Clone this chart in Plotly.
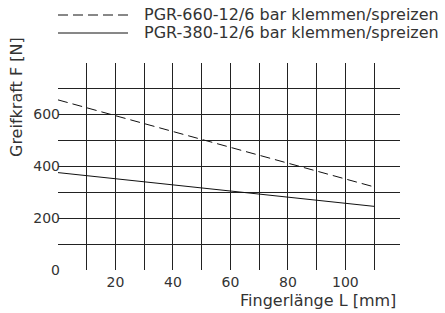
import plotly.graph_objects as go

# Data
x_660 = [0, 110]
f_660 = [655, 320]
x_380 = [0, 110]
f_380 = [375, 245]
name_660 = "PGR-660-12/6 bar klemmen/spreizen"
name_380 = "PGR-380-12/6 bar klemmen/spreizen"
x_grid = list(range(0, 111, 10))
x_labels = ["", "", "20", "", "40", "", "60", "", "80", "", "100", ""]
y_grid = list(range(0, 701, 100))
y_labels = ["0", "", "200", "", "400", "", "600", ""]

FONT = "DejaVu Sans"
TXT = "#333333"
PW, PH = 342, 207  # plot area size in px

fig = go.Figure()
fig.add_trace(go.Scatter(x=x_660, y=f_660, mode="lines", name=name_660,
                         line=dict(color="#111111", width=1, dash="10px,5px")))
fig.add_trace(go.Scatter(x=x_380, y=f_380, mode="lines", name=name_380,
                         line=dict(color="#111111", width=1)))

fig.update_layout(
    width=445, height=313,
    margin=dict(l=58, r=45, t=63, b=43),
    paper_bgcolor="white", plot_bgcolor="white",
    showlegend=False,
    font=dict(family=FONT, size=14, color=TXT),
    xaxis=dict(range=[0, 119], tickvals=x_grid, ticktext=x_labels,
               showgrid=True, gridcolor="#222222", gridwidth=1,
               zeroline=False, showline=False, ticks="", ticklabelstandoff=2,
               tickfont=dict(size=14, color=TXT, family=FONT)),
    yaxis=dict(range=[0, 797], tickvals=y_grid, ticktext=y_labels,
               showgrid=True, gridcolor="#222222", gridwidth=1,
               zeroline=False, showline=False, ticks="", ticklabelstandoff=-3,
               tickfont=dict(size=14, color=TXT, family=FONT)),
)

# Axis titles
fig.add_annotation(text="Greifkraft F [N]", xref="paper", yref="paper",
                   x=0, y=(207 - (97 - 63)) / PH, xanchor="center", yanchor="middle",
                   textangle=-90, showarrow=False, xshift=-42,
                   font=dict(size=16, color=TXT, family=FONT))
fig.add_annotation(text="Fingerlänge L [mm]", xref="paper", yref="paper",
                   x=(398 - 58) / PW, y=0, xanchor="right", yanchor="top",
                   yshift=-19, showarrow=False,
                   font=dict(size=16, color=TXT, family=FONT))

# Legend (custom)
leg = [(name_660, "10px,5px", 14), (name_380, "solid", 32)]
for name, dash, ypix in leg:
    yp = (270 - ypix) / PH
    fig.add_shape(type="line", xref="paper", yref="paper",
                  x0=0, x1=(128 - 58) / PW, y0=yp - 1 / PH, y1=yp - 1 / PH,
                  line=dict(color="#111111", width=1, dash=dash))
    fig.add_annotation(text=name, xref="paper", yref="paper",
                       x=(142 - 58) / PW, y=yp, xanchor="left", yanchor="middle",
                       showarrow=False, font=dict(size=16, color=TXT, family=FONT))

fig.write_html("out.html", config=dict(displayModeBar=False),
               post_script="document.body.style.margin='0';")
